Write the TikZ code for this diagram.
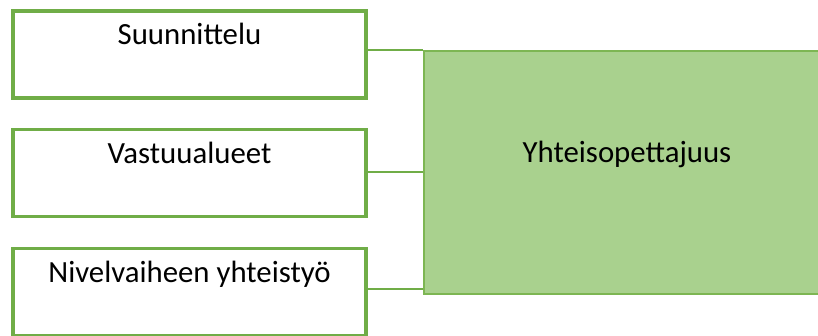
\documentclass[tikz,border=0pt]{standalone}
\usepackage{fontspec}
\setmainfont{Carlito}
\usepackage{tikz}
\usetikzlibrary{positioning}
\definecolor{leafgreen}{HTML}{70AD47}
\definecolor{palegreen}{HTML}{A9D18E}
\definecolor{edgegreen}{HTML}{7DB653}
\tikzstyle{topic} = [rectangle, minimum width=353pt, minimum height=87pt, text centered, text height=22pt, text depth=41pt, line width=3.6pt, draw=leafgreen, font=\fontsize{30.8}{37}\selectfont]
\tikzstyle{theme} = [rectangle, minimum width=406pt, minimum height=243pt, text centered, text height=22pt, text depth=41pt, line width=1.5pt, draw=edgegreen, fill=palegreen, font=\fontsize{30.8}{37}\selectfont]
\tikzstyle{link} = [line width=2pt, draw=leafgreen]

\begin{document}
\begin{tikzpicture}[x=1pt, y=-1pt]
\useasboundingbox (0,0) rectangle (818,336);
\node (suunn) [topic] at (189.5,54.5) {Suunnittelu};
\node (vastuu) [topic] at (189.5,173) {Vastuualueet};
\node (nivel) [topic] at (189.5,292) {Nivelvaiheen yhteistyö};
\node (yhteis) [theme] at (627,172.5) {Yhteisopettajuus};

\draw[link] (yhteis.north west) -- (yhteis.north west -| suunn.east);
\draw[link] (yhteis.west) -- (yhteis.west -| vastuu.east);
\draw[link] ([yshift=6pt]yhteis.south west) -- ([yshift=6pt]yhteis.south west -| nivel.east);
\end{tikzpicture}
\end{document}
